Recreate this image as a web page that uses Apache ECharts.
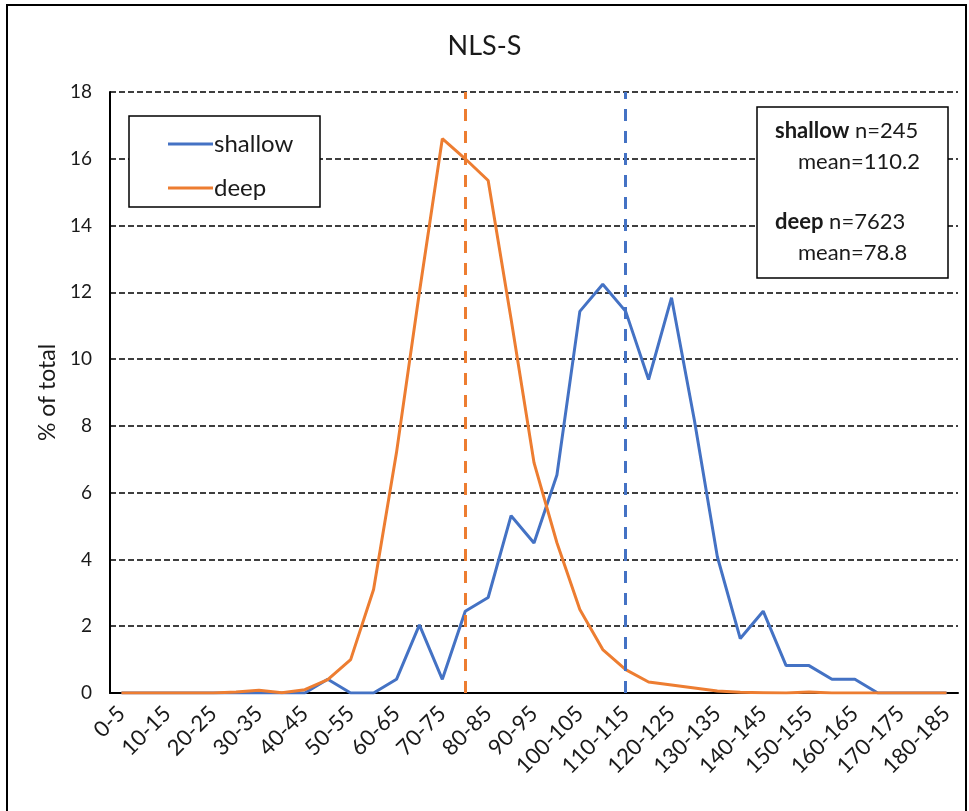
<!DOCTYPE html>
<html>
<head>
<meta charset="utf-8">
<script src="https://cdn.jsdelivr.net/npm/echarts@6/dist/echarts.min.js"></script>
<style>
html,body{margin:0;padding:0;background:#fff;}
#chart{width:969px;height:811px;}
</style>
</head>
<body>
<div id="chart"></div>
<script>
const categories = ['0-5','5-10','10-15','15-20','20-25','25-30','30-35','35-40','40-45','45-50',
  '50-55','55-60','60-65','65-70','70-75','75-80','80-85','85-90','90-95','95-100',
  '100-105','105-110','110-115','115-120','120-125','125-130','130-135','135-140','140-145','145-150',
  '150-155','155-160','160-165','165-170','170-175','175-180','180-185'];
const shallow = [0,0,0,0,0,0,0,0,0,0.41,
  0,0,0.41,2.04,0.41,2.45,2.86,5.31,4.49,6.53,
  11.43,12.24,11.43,9.39,11.84,8.16,4.08,1.63,2.45,0.82,
  0.82,0.41,0.41,0,0,0,0];
const deep = [0,0,0,0,0,0.03,0.08,0.01,0.1,0.4,
  1.0,3.1,7.2,12.0,16.6,16.0,15.35,11.2,6.9,4.5,
  2.5,1.3,0.7,0.33,0.24,0.15,0.06,0.02,0.01,0,
  0.03,0,0,0,0,0,0];
const yTicks = [0,2,4,6,8,10,12,14,16,18];
const shallowMeanBin = '110-115';
const deepMeanBin = '75-80';
const title = 'NLS-S';
const seriesNames = ['shallow','deep'];
const stats = {shallow:{n:245, mean:110.2}, deep:{n:7623, mean:78.8}};

const FONT = 'Lato, "Open Sans", sans-serif';
const BLUE = '#4472C4', ORANGE = '#ED7D31';
const TXT = '#1a1a1a';

const chart = echarts.init(document.getElementById('chart'));
chart.setOption({
  backgroundColor: '#fff',
  animation: false,
  textStyle: {fontFamily: FONT},
  title: {
    text: title, left: 'center', top: 28,
    textStyle: {fontFamily: FONT, fontSize: 27, fontWeight: 'normal', color: TXT}
  },
  grid: {left: 110, right: 11, top: 92, bottom: 118, containLabel: false},
  legend: {
    left: 163, top: 127, orient: 'vertical', itemGap: 20, z: 20,
    icon: 'rect', itemWidth: 45, itemHeight: 3,
    data: seriesNames,
    textStyle: {fontFamily: FONT, fontSize: 24, color: TXT, padding: [0,0,0,-4]}
  },
  xAxis: {
    type: 'category', data: categories, boundaryGap: true,
    axisLine: {lineStyle: {color: '#000', width: 2}},
    axisTick: {show: false},
    axisLabel: {interval: 1, rotate: 45, fontSize: 22, color: TXT, margin: 17, fontFamily: FONT}
  },
  yAxis: {
    type: 'value', min: yTicks[0], max: yTicks[yTicks.length-1], interval: 2,
    name: '% of total', nameLocation: 'middle', nameGap: 46, nameRotate: 90,
    nameTextStyle: {fontSize: 23, color: TXT, fontFamily: FONT},
    axisLine: {show: true, lineStyle: {color: '#000', width: 2}},
    axisTick: {show: false},
    axisLabel: {fontSize: 19, color: TXT, margin: 18, fontFamily: FONT},
    splitLine: {lineStyle: {color: '#000', width: 1.5, type: [6,3]}}
  },
  series: [
    {
      name: seriesNames[0], type: 'line', data: shallow, symbol: 'none',
      lineStyle: {color: BLUE, width: 3}, itemStyle: {color: BLUE}, z: 3,
      markLine: {
        silent: true, symbol: 'none', label: {show: false},
        lineStyle: {color: BLUE, width: 3, type: [12,10]},
        data: [{xAxis: shallowMeanBin}]
      }
    },
    {
      name: seriesNames[1], type: 'line', data: deep, symbol: 'none',
      lineStyle: {color: ORANGE, width: 3}, itemStyle: {color: ORANGE}, z: 4,
      markLine: {
        silent: true, symbol: 'none', label: {show: false},
        lineStyle: {color: ORANGE, width: 3, type: [12,10]},
        data: [{xAxis: deepMeanBin}]
      }
    }
  ],
  graphic: [
    {type: 'polyline', shape: {points: [[7,830],[7,5],[966,5],[966,830]]},
     style: {stroke: '#000', lineWidth: 2, fill: null}, z: 1},
    {type: 'rect', shape: {x: 129, y: 116, width: 191, height: 91},
     style: {fill: '#fff', stroke: '#000', lineWidth: 1.5}, z: 5},
    {type: 'rect', shape: {x: 757, y: 107, width: 191, height: 171},
     style: {fill: '#fff', stroke: '#000', lineWidth: 1.5}, z: 5},
    {type: 'text', x: 775, y: 131, z: 6,
     style: {text: '{b|' + seriesNames[0] + '} n=' + stats.shallow.n, font: '22px ' + FONT, fill: TXT,
       verticalAlign: 'middle',
       rich: {b: {fontWeight: 'bold', fontSize: 22, fontFamily: FONT, fill: TXT}}}},
    {type: 'text', x: 798, y: 162, z: 6,
     style: {text: 'mean=' + stats.shallow.mean, font: '22px ' + FONT, fill: TXT, verticalAlign: 'middle'}},
    {type: 'text', x: 775, y: 222, z: 6,
     style: {text: '{b|' + seriesNames[1] + '} n=' + stats.deep.n, font: '22px ' + FONT, fill: TXT,
       verticalAlign: 'middle',
       rich: {b: {fontWeight: 'bold', fontSize: 22, fontFamily: FONT, fill: TXT}}}},
    {type: 'text', x: 798, y: 253, z: 6,
     style: {text: 'mean=' + stats.deep.mean, font: '22px ' + FONT, fill: TXT, verticalAlign: 'middle'}}
  ]
});
</script>
</body>
</html>
